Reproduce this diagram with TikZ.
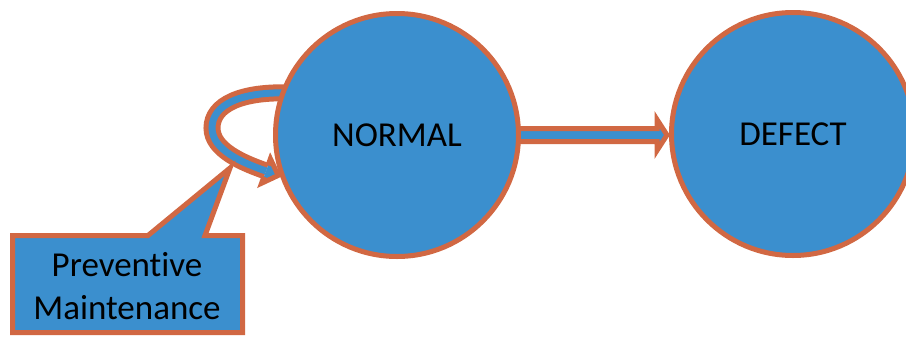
\documentclass[tikz,border=0pt]{standalone}
\usepackage{fontspec}
\setmainfont[Ligatures={NoCommon}]{Carlito}
\usetikzlibrary{calc,backgrounds}
\definecolor{fillblue}{RGB}{59,143,206}
\definecolor{edgeorange}{RGB}{209,104,67}
\begin{document}
\begin{tikzpicture}[x=1pt,y=-1pt,
  state/.style={circle, draw=edgeorange, fill=fillblue, line width=5pt,
    minimum size=243pt, inner sep=0pt, font=\fontsize{35}{40}\selectfont},
  headfill/.style={fill=fillblue},
  headedge/.style={draw=edgeorange, line width=5pt, line join=miter},
  band/.style={draw=edgeorange, line width=5pt, double=fillblue, double distance=7pt},
  calloutbox/.style={draw=edgeorange, fill=fillblue, line width=5pt, line join=miter},
  calltext/.style={font=\fontsize{35}{43}\selectfont, align=center, inner sep=0pt}]
\useasboundingbox (0,0) rectangle (906,338);

% states
\node[state] (normal) at (397,135) {NORMAL};
\node[state] (defect) at (793,134) {DEFECT};

\begin{scope}[on background layer]
  % straight block arrow NORMAL -> DEFECT
  \coordinate (tip) at ($(defect.west)+(-2,1)$);
  \coordinate (sA) at ($(normal.east)+(-4,-6.5)$);
  \coordinate (sB) at ($(normal.east)+(-4,6.5)$);
  \fill[headfill] (sA) -- ($(tip)+(-10,-6.5)$) -- ($(tip)+(-10,-15.5)$) -- (tip)
     -- ($(tip)+(-10,15.5)$) -- ($(tip)+(-10,6.5)$) -- (sB) -- cycle;
  \draw[headedge] (sA) -- ($(tip)+(-10,-6.5)$) -- ($(tip)+(-10,-15.5)$) -- (tip)
     -- ($(tip)+(-10,15.5)$) -- ($(tip)+(-10,6.5)$) -- (sB);

  % self loop on NORMAL
  \coordinate (loopstart) at ($(normal.center)+(-105,-42)$);
  \coordinate (loopleft) at (212,128);
  \coordinate (loopend) at (266,171);
  \draw[band] (loopstart) .. controls (240,91) and (212,105) .. (loopleft)
     .. controls (212,150) and (243,163) .. (loopend);
  \fill[headfill] ($(loopend)+(-2.04,5.64)$) -- ($(loopend)+(-4.42,12.22)$)
     -- ($(loopend)+(12.22,4.42)$) -- ($(loopend)+(4.42,-12.22)$)
     -- ($(loopend)+(2.04,-5.64)$) -- cycle;
  \draw[headedge] ($(loopend)+(-2.04,5.64)$) -- ($(loopend)+(-4.42,12.22)$)
     -- ($(loopend)+(12.22,4.42)$) -- ($(loopend)+(4.42,-12.22)$)
     -- ($(loopend)+(2.04,-5.64)$);
\end{scope}

% callout
\coordinate (pointer) at (230,168);
\draw[calloutbox] (12.5,235.5) -- (148,235.5) -- (pointer) -- (205,235.5)
   -- (242.5,235.5) -- (242.5,332.5) -- (12.5,332.5) -- cycle;
\node[calltext] (pm) at (127,286) {Preventive\\Maintenance};
\end{tikzpicture}
\end{document}
